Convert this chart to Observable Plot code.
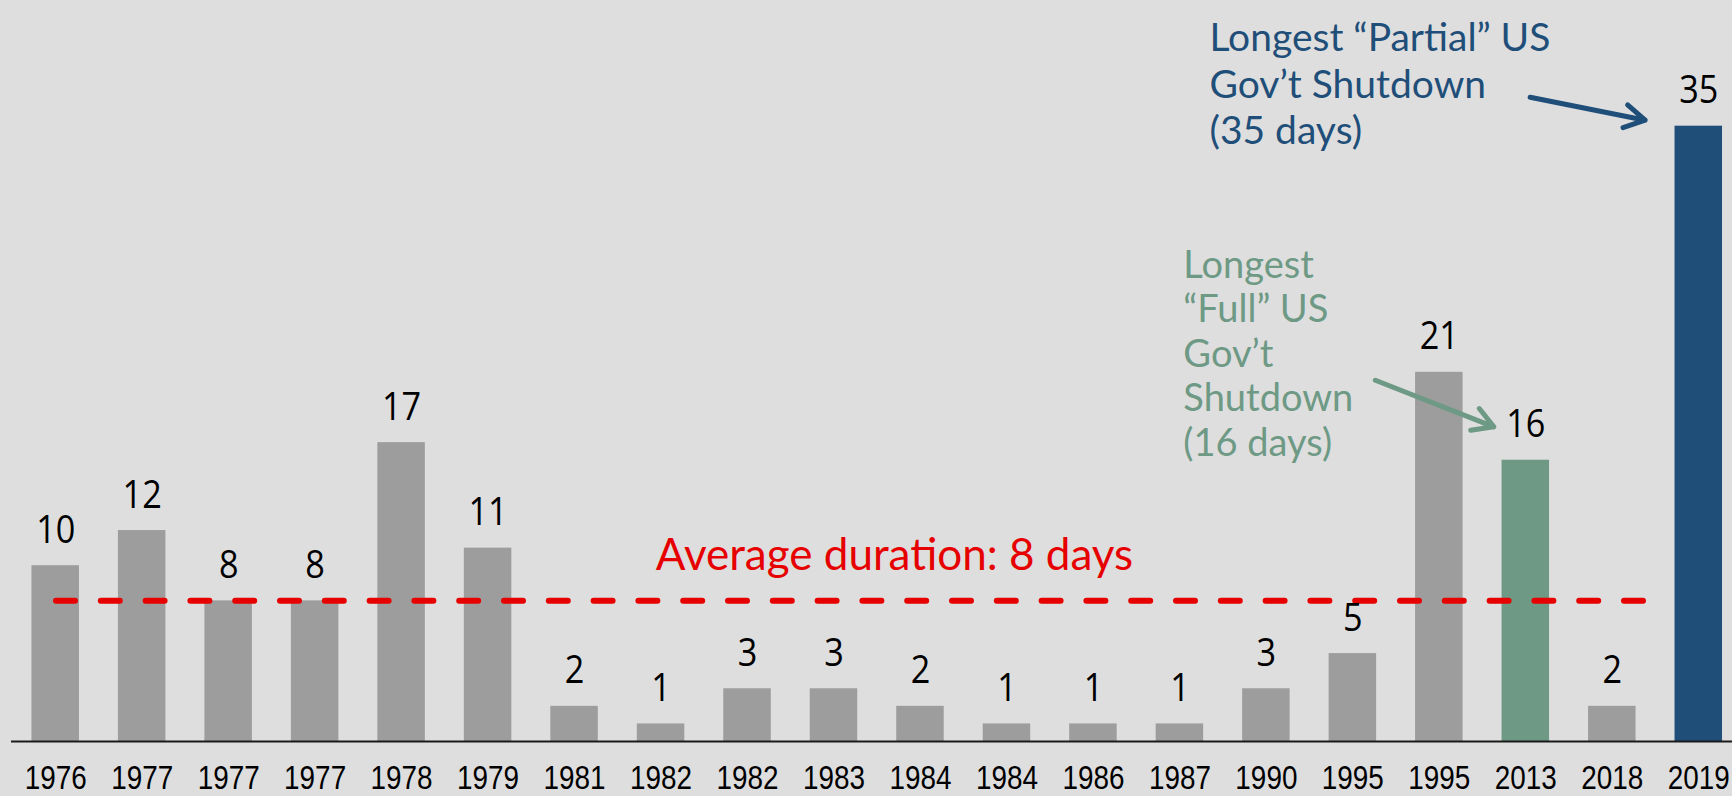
<!DOCTYPE html>
<html>
<head>
<meta charset="utf-8">
<script src="https://cdn.jsdelivr.net/npm/d3@7"></script>
<script src="https://cdn.jsdelivr.net/npm/@observablehq/plot@0.6"></script>
<style>
  html, body { margin: 0; padding: 0; background: #dedede; overflow: hidden; }
  #chart svg { display: block; }
</style>
</head>
<body>
<div id="chart"></div>
<script>
// ---- Data ----
const years = ["1976","1977","1977","1977","1978","1979","1981","1982","1982","1983",
               "1984","1984","1986","1987","1990","1995","1995","2013","2018","2019"];
const durations = [10, 12, 8, 8, 17, 11, 2, 1, 3, 3, 2, 1, 1, 1, 3, 5, 21, 16, 2, 35];
const kinds = ["other","other","other","other","other","other","other","other","other","other",
               "other","other","other","other","other","other","other","full","other","partial"];
const averageDays = 8;
const averageLabel = ["Average duration: 8 days"];
const partialNote = ["Longest \u201CPartial\u201D US\nGov\u2019t Shutdown\n(35 days)"];
const fullNote = ["Longest\n\u201CFull\u201D US\nGov\u2019t\nShutdown\n(16 days)"];
// arrows (data units: bar index, days)
const partialArrow = [{x1: 17.05, y1: 36.65, x2: 18.38, y2: 35.34}];
const fullArrow = [{x1: 15.26, y1: 20.55, x2: 16.63, y2: 17.9}];

const data = durations.map((v, i) => ({i, year: years[i], v, kind: kinds[i]}));
const barHalf = 0.2746;

const chart = Plot.plot({
  width: 1732,
  height: 796,
  marginLeft: 11,
  marginRight: 0,
  marginTop: 0,
  marginBottom: 55,
  style: {background: "#dedede", color: "black"},
  x: {type: "linear", domain: [-0.511, 19.39]},
  y: {domain: [0, 42.15], axis: null},
  color: {domain: ["other", "full", "partial"], range: ["#9d9d9d", "#6d9985", "#1f4e79"]},
  marks: [
    Plot.rect(data, {x1: d => d.i - barHalf, x2: d => d.i + barHalf, y1: 0, y2: "v", fill: "kind"}),
    Plot.ruleY([0], {stroke: "#1a1a1a", strokeWidth: 2}),
    Plot.ruleY([averageDays], {stroke: "#e60000", strokeWidth: 6, strokeDasharray: "19,25.8",
      strokeLinecap: "round", insetLeft: 45, insetRight: 66}),
    Plot.axisX({ticks: d3.range(years.length), tickFormat: i => years[i], tickSize: 0,
      tickPadding: 24.5, fontSize: 33, fontFamily: "Liberation Sans", label: null}),
    Plot.text(data, {x: "i", y: "v", text: d => String(d.v), dy: -23, lineAnchor: "bottom",
      fontSize: 38, fontFamily: "Open Sans", fill: "black"}),
    Plot.text(averageLabel, {x: 6.94, y: 9.78, text: d => d, textAnchor: "start", lineAnchor: "bottom",
      fontSize: 44, fontFamily: "Lato", fill: "#e60000"}),
    Plot.text(partialNote, {x: 13.342, y: 41.13, text: d => d, textAnchor: "start", lineAnchor: "top",
      lineHeight: 1.19, fontSize: 39, fontFamily: "Lato", fill: "#1f4e79"}),
    Plot.text(fullNote, {x: 13.04, y: 28.16, text: d => d, textAnchor: "start", lineAnchor: "top",
      lineHeight: 1.17, fontSize: 38, fontFamily: "Lato", fill: "#6d9985"}),
    Plot.arrow(partialArrow, {x1: "x1", y1: "y1", x2: "x2", y2: "y2", stroke: "#1f4e79",
      strokeWidth: 5, headLength: 7}),
    Plot.arrow(fullArrow, {x1: "x1", y1: "y1", x2: "x2", y2: "y2", stroke: "#6d9985",
      strokeWidth: 5, headLength: 7})
  ]
});

document.getElementById("chart").append(chart);

// horizontally condense the numeric labels to match the reference typeface
function squeeze(nodes, f) {
  nodes.forEach(t => {
    const w = t.getComputedTextLength();
    t.setAttribute("textLength", (w * f).toFixed(2));
    t.setAttribute("lengthAdjust", "spacingAndGlyphs");
  });
}
squeeze(chart.querySelectorAll('g[aria-label="x-axis tick label"] text'), 0.845);
squeeze(chart.querySelectorAll('g[aria-label="text"][font-size="38"][font-family="Open Sans"] text'), 0.9);
</script>
</body>
</html>
